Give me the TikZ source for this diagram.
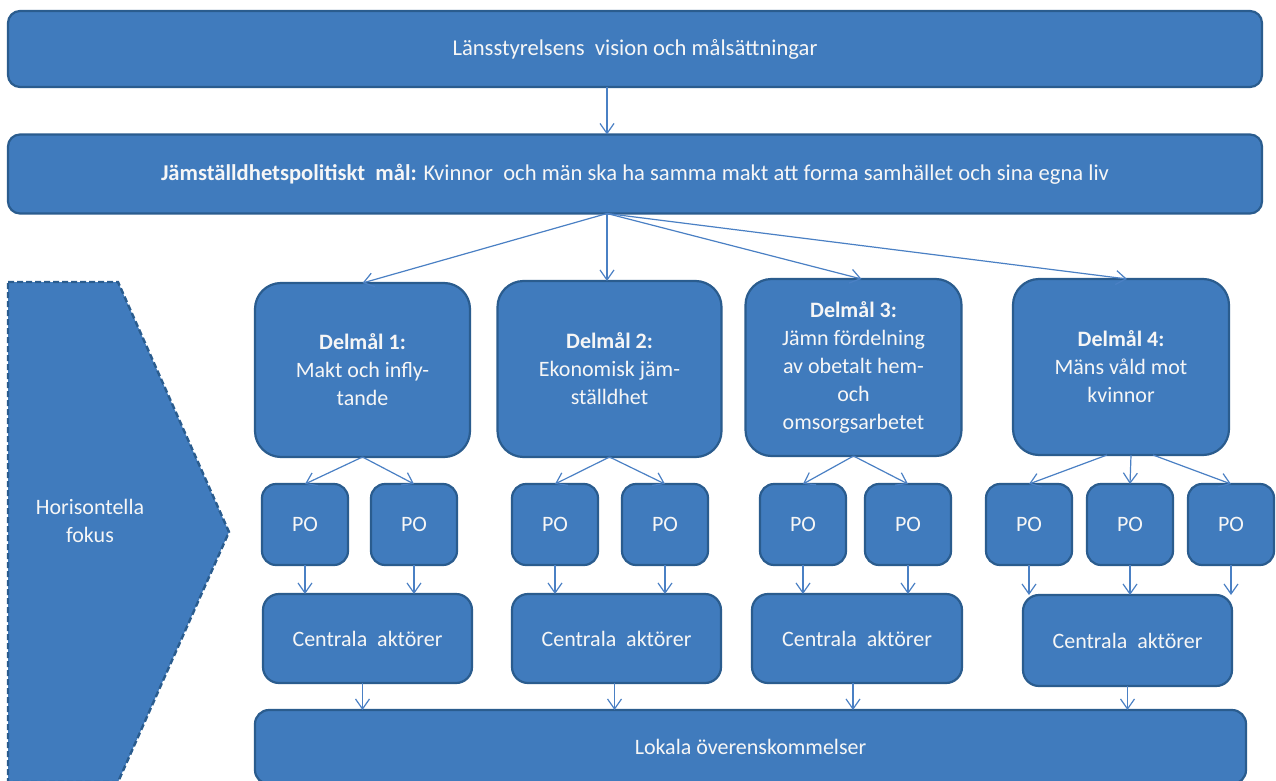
\documentclass[tikz,border=0pt]{standalone}
\usepackage{fontspec}
\setmainfont{Carlito}
\usetikzlibrary{arrows.meta,calc}
\definecolor{boxfill}{RGB}{64,123,189}
\definecolor{boxline}{RGB}{42,92,142}
\definecolor{arrowc}{RGB}{74,128,196}
\definecolor{txt}{RGB}{246,246,246}
\begin{document}
\begin{tikzpicture}[x=1pt,y=-1pt,
  box/.style={draw=boxline, fill=boxfill, line width=2.2pt, text=txt, inner sep=0pt, outer sep=0pt, align=center, font=\fontsize{22}{28}\selectfont},
  wide/.style={box, minimum width=1254pt, rounded corners=12pt, font=\fontsize{22.6}{28}\selectfont},
  goalbox/.style={box, minimum width=215pt, rounded corners=26pt},
  pobox/.style={box, minimum width=86pt, minimum height=81pt, rounded corners=14pt},
  actbox/.style={box, minimum width=209pt, minimum height=89pt, rounded corners=16pt},
  arr/.style={draw=arrowc, line width=1.2pt, -{Straight Barb[length=10pt,width=14pt]}}
]
\useasboundingbox (0,0) rectangle (1276,781);
\fill[white] (0,0) rectangle (1276,781);
\clip (0,0) rectangle (1276,781);

% chevron
\draw[draw=boxline, fill=boxfill, line width=2.4pt, dash pattern=on 6pt off 3pt]
  (8,282) -- (118,282) -- (229,532) -- (118,782) -- (8,782) -- cycle;
\node[text=txt, align=center, font=\fontsize{22}{28}\selectfont] (hf) at (90,521) {Horisontella\\fokus};

% top boxes
\node[wide, minimum height=76pt] (top) at (635,49) {Länsstyrelsens\ \ vision och målsättningar};
\node[wide, minimum height=79pt] (goal) at (635,174) {\textbf{Jämställdhetspolitiskt\ \ mål:} Kvinnor\ \ och män ska ha samma makt att forma samhället och sina egna liv};

% delmål
\node[goalbox, minimum height=174pt] (d1) at (362.5,370) {\textbf{Delmål 1:}\\Makt och infly-\\tande};
\node[goalbox, minimum width=224pt, minimum height=176pt] (d2) at (609.5,369) {\textbf{Delmål 2:}\\Ekonomisk jäm-\\ställdhet};
\node[goalbox, minimum width=216pt, minimum height=177pt] (d3) at (853.5,367.5) {\textbf{Delmål 3:}\\Jämn fördelning\\av obetalt hem-\\och\\omsorgsarbetet};
\node[goalbox, minimum width=216pt, minimum height=176pt] (d4) at (1121,367) {\textbf{Delmål 4:}\\Mäns våld mot\\kvinnor};

% PO
\node[pobox] (p11) at (305,524.5) {PO};
\node[pobox] (p12) at (414,524.5) {PO};
\node[pobox] (p21) at (555,524.5) {PO};
\node[pobox] (p22) at (665,524.5) {PO};
\node[pobox] (p31) at (803,524.5) {PO};
\node[pobox] (p32) at (908,524.5) {PO};
\node[pobox] (p41) at (1029,524.5) {PO};
\node[pobox] (p42) at (1130,524.5) {PO};
\node[pobox] (p43) at (1231,524.5) {PO};

% centrala aktörer
\node[actbox] (c1) at (367.5,638.5) {Centrala\ \ aktörer};
\node[actbox] (c2) at (616.5,638.5) {Centrala\ \ aktörer};
\node[actbox, minimum width=210pt] (c3) at (857,638.5) {Centrala\ \ aktörer};
\node[actbox, minimum height=91pt] (c4) at (1127.5,640.5) {Centrala\ \ aktörer};

% lokala
\node[box, minimum width=991pt, minimum height=74pt, rounded corners=14pt] (lok) at (750.5,747) {Lokala överenskommelser};

% arrows
\coordinate (ax) at (607,0);
\draw[arr] (top.south -| ax) -- (goal.north -| ax);
\coordinate (gs) at (goal.south -| ax);
\draw[arr] (gs) -- (d1.north);
\draw[arr] (gs) -- (d2.north -| gs);
\draw[arr] (gs) -- ($(d3.north)+(8,0)$);
\draw[arr] (gs) -- ($(d4.north)+(6,0)$);

\draw[arr] (d1.south) -- (p11.north);
\draw[arr] (d1.south) -- (p12.north);
\draw[arr] (d2.south) -- (p21.north);
\draw[arr] (d2.south) -- (p22.north);
\draw[arr] (d3.south) -- (p31.north);
\draw[arr] (d3.south) -- (p32.north);
\draw[arr] ($(d4.south)+(-14,0)$) -- (p41.north);
\draw[arr] ($(d4.south)+(10,0)$) -- (p42.north);
\draw[arr] ($(d4.south)+(32,0)$) -- (p43.north);

\foreach \p/\c in {p11/c1,p12/c1,p21/c2,p22/c2,p31/c3,p32/c3,p41/c4,p42/c4,p43/c4}
  \draw[arr] (\p.south) -- (\p.south |- \c.north);

\coordinate (l1) at ($(c1.south)+(-5,0)$);
\coordinate (l2) at ($(c2.south)+(-2,0)$);
\coordinate (l3) at ($(c3.south)+(-4,0)$);
\draw[arr] (l1) -- (l1 |- lok.north);
\draw[arr] (l2) -- (l2 |- lok.north);
\draw[arr] (l3) -- (l3 |- lok.north);
\draw[arr] (c4.south) -- (c4.south |- lok.north);
\end{tikzpicture}
\end{document}
